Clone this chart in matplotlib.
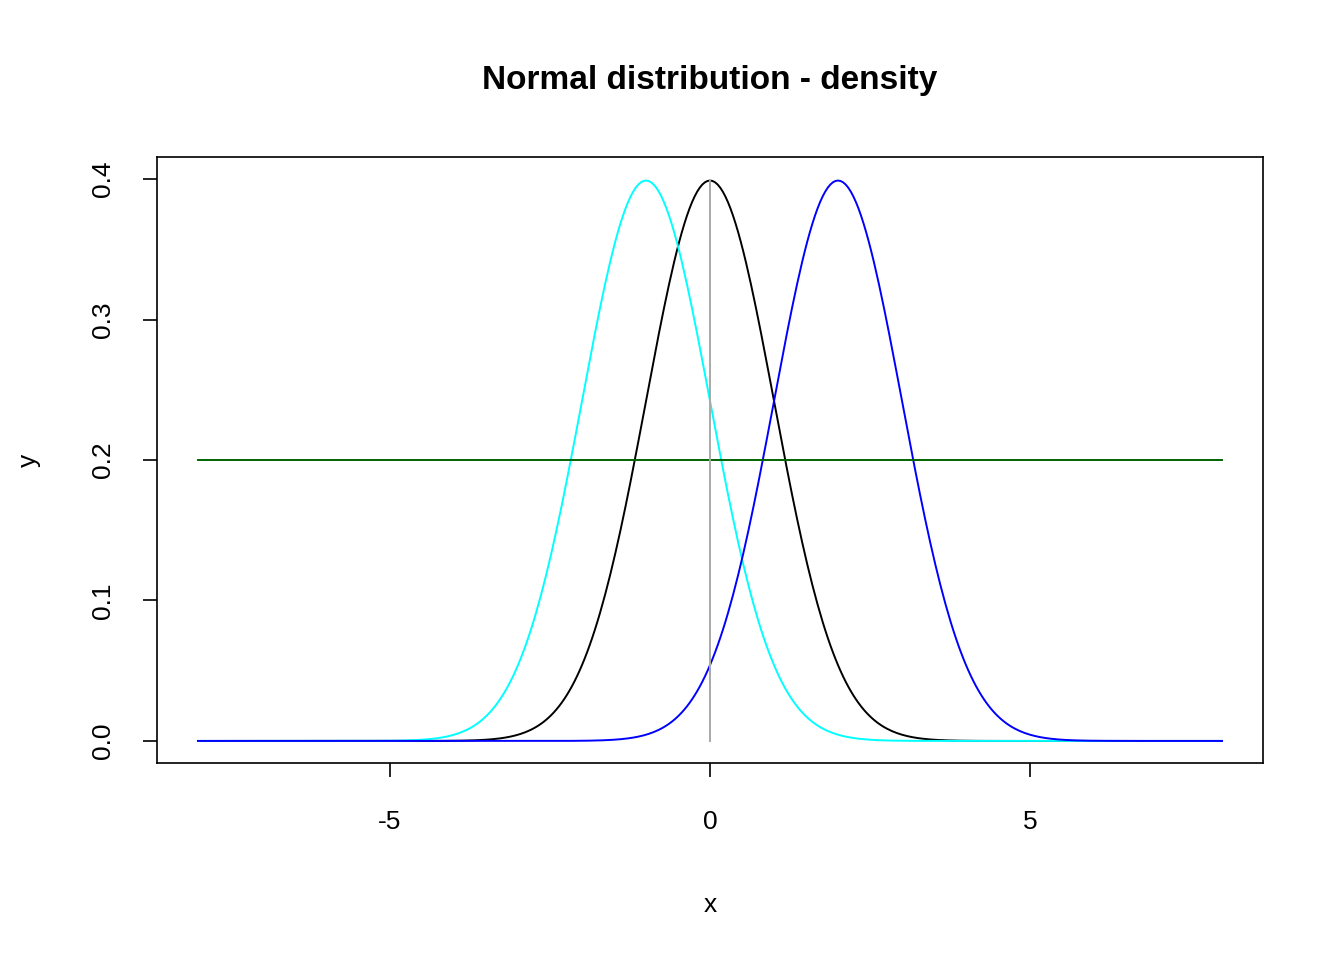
import numpy as np
import matplotlib
matplotlib.use("Agg")
import matplotlib.pyplot as plt

# distribution parameters (density curves are normal pdfs)
means = [0, -1, 2]
sds = [1, 1, 1]
colors = ["black", "cyan", "blue"]
x_range = (-8, 8)
hline_y = 0.2
xticks = [-5, 0, 5]
yticks = [0.0, 0.1, 0.2, 0.3, 0.4]

plt.rcParams["font.family"] = "Liberation Sans"
fig = plt.figure(figsize=(13.44, 9.6), dpi=100)
ax = fig.add_axes([157/1344, 1-763/960, (1263-157)/1344, (763-157)/960])

x = np.linspace(x_range[0], x_range[1], 401)
for m, s, c in zip(means, sds, colors):
    y = np.exp(-0.5*((x-m)/s)**2)/(s*np.sqrt(2*np.pi))
    ax.plot(x, y, color=c, lw=1.4)
ax.plot(x_range, [hline_y, hline_y], color="darkgreen", lw=1.4)
ax.plot([0, 0], [0, 1/np.sqrt(2*np.pi)], color="darkgray", lw=1.4)

ax.set_xlim(-8.64, 8.64)
ax.set_ylim(-0.0157, 0.4157)
ax.set_xticks(xticks)
ax.set_xticklabels([str(t) for t in xticks])
ax.set_yticks(yticks)
ax.set_yticklabels([f"{t:.1f}" for t in yticks], rotation=90, va="center")
ax.tick_params(labelsize=19, length=10, width=1.2)
ax.tick_params(axis="x", pad=24)
ax.tick_params(axis="y", pad=20)
for sp in ax.spines.values():
    sp.set_linewidth(1.2)
ax.set_xlabel("x", fontsize=19, labelpad=42)
ax.set_ylabel("y", fontsize=19, labelpad=36)
fig.text(710/1344, 1-80/960, "Normal distribution - density", ha="center", va="center",
         fontsize=24, fontweight="bold")
fig.savefig("out.png", dpi=100)
